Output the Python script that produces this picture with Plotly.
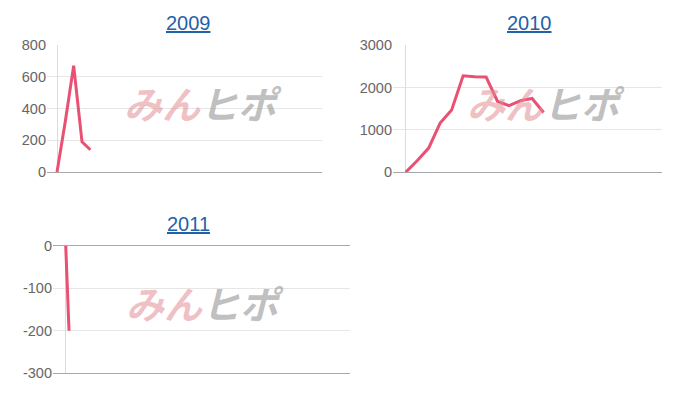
import plotly.graph_objects as go

# ---- data ----
years = ["2009", "2010", "2011"]
x_2009 = [0, 1, 2, 3, 4]
y_2009 = [0, 320, 670, 190, 140]
x_2010 = list(range(13))
y_2010 = [0, 270, 570, 1160, 1470, 2275, 2250, 2245, 1670, 1570, 1690, 1740, 1410]
x_2011 = [0, 1, 2]
y_2011 = [0, -90, -200]
yticks_2009 = [0, 200, 400, 600, 800]
yticks_2010 = [0, 1000, 2000, 3000]
yticks_2011 = [0, -100, -200, -300]

LINE = "#ea5072"
GRID = "#e6e6e6"
BASE = "#a8a8a8"
TICKC = "#666666"
FONT = "Liberation Sans, Arial, sans-serif"

# page body margin of the viewer shifts the figure by 8px
OFF = 8

fig = go.Figure()
fig.add_trace(go.Scatter(x=x_2009, y=y_2009, mode="lines", line=dict(color=LINE, width=3), xaxis="x", yaxis="y"))
fig.add_trace(go.Scatter(x=x_2010, y=y_2010, mode="lines", line=dict(color=LINE, width=3), xaxis="x2", yaxis="y2"))
fig.add_trace(go.Scatter(x=x_2011, y=y_2011, mode="lines", line=dict(color=LINE, width=3), xaxis="x3", yaxis="y3"))

def H(py):
    return 1 - (py - OFF) / 400.0

def W(px):
    return (px - OFF) / 700.0

def xax(dom, rng, anchor):
    return dict(domain=dom, range=rng, anchor=anchor, showgrid=False, showticklabels=False,
                zeroline=True, zerolinecolor="#dcdcdc", zerolinewidth=1, automargin=False,
                showline=True, linecolor=BASE, linewidth=1, mirror=False, fixedrange=True)

def yax(dom, rng, ticks, anchor):
    return dict(domain=dom, range=rng, anchor=anchor, tickvals=ticks,
                ticktext=[str(t) for t in ticks], showgrid=True, gridcolor=GRID,
                zeroline=True, zerolinecolor=BASE, zerolinewidth=1, showline=False, automargin=False,
                tickfont=dict(family=FONT, size=14.5, color=TICKC), ticks="", ticklen=0,
                fixedrange=True)

fig.update_layout(
    width=700, height=400, margin=dict(l=0, r=0, t=0, b=0, pad=0, autoexpand=False),
    paper_bgcolor="white", plot_bgcolor="white", showlegend=False,
    xaxis=xax([W(47), W(322)], [-1.2, 31.8], "y"),
    yaxis=yax([H(172), H(45)], [0, 800], yticks_2009, "x"),
    xaxis2=xax([W(393), W(662)], [-1.1, 22.3], "y2"),
    yaxis2=yax([H(172.3), H(45)], [0, 3000], yticks_2010, "x2"),
    xaxis3=xax([W(53), W(350)], [-7.7, 172], "y3"),
    yaxis3=yax([H(373.3), H(245.7)], [-300, 0], yticks_2011, "x3"),
)

titles_pos = [(188.7, 23.5), (529, 23.5), (188.7, 223.7)]
for yr, (cx, cy) in zip(years, titles_pos):
    fig.add_annotation(x=W(cx), y=H(cy), xref="paper", yref="paper", text="<u>" + yr + "</u>",
                       showarrow=False, xanchor="center", yanchor="middle",
                       font=dict(family=FONT, size=20, color="#1f62a8"))

logo_pos = [(203, 102), (546, 102), (205, 302)]
logo = ("<b><i><span style='color:rgba(226,140,146,0.55)'>みん</span>"
        "<span style='color:rgba(150,150,150,0.6)'>ヒポ</span></i></b>")
for cx, cy in logo_pos:
    fig.add_annotation(x=W(cx), y=H(cy), xref="paper", yref="paper", text=logo, showarrow=False,
                       xanchor="center", yanchor="middle",
                       font=dict(family="Noto Sans CJK JP", size=38))

fig.write_html("out.html")
